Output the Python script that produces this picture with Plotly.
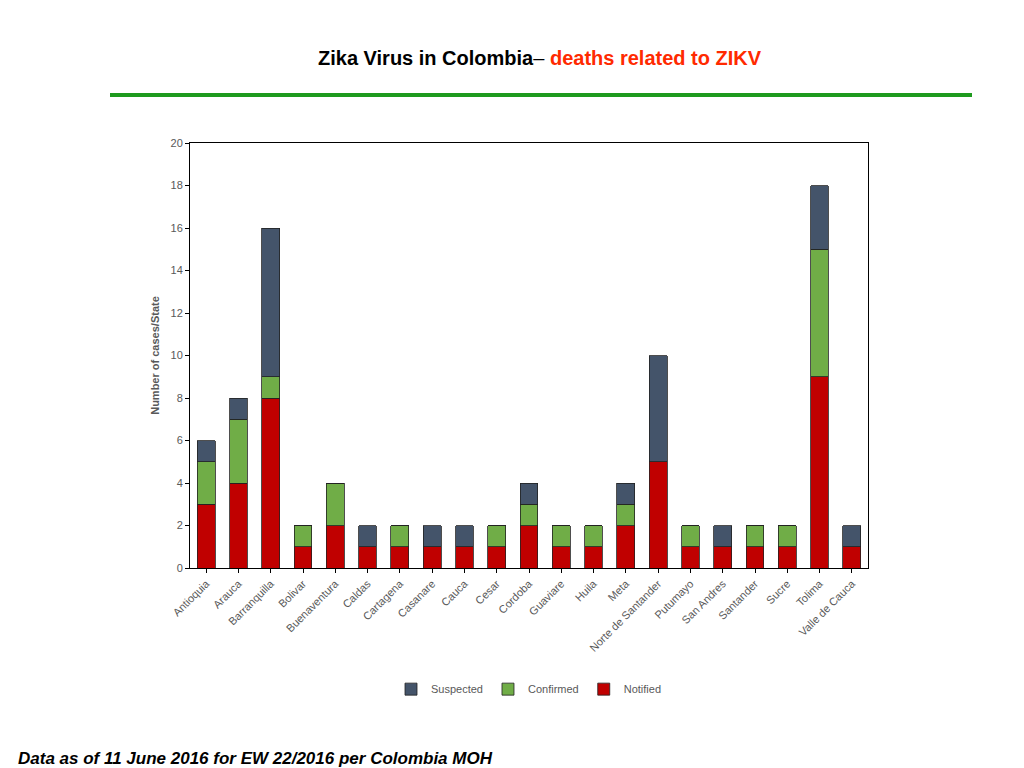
import plotly.graph_objects as go

states = ["Antioquia","Arauca","Barranquilla","Bolivar","Buenaventura","Caldas","Cartagena","Casanare","Cauca","Cesar","Cordoba","Guaviare","Huila","Meta","Norte de Santander","Putumayo","San Andres","Santander","Sucre","Tolima","Valle de Cauca"]
notified  = [3,4,8,1,2,1,1,1,1,1,2,1,1,2,5,1,1,1,1,9,1]
confirmed = [2,3,1,1,2,0,1,0,0,1,1,1,1,1,0,1,0,1,1,6,0]
suspected = [1,1,7,0,0,1,0,1,1,0,1,0,0,1,5,0,1,0,0,3,1]

fig = go.Figure()
for name, vals, col in [("Notified", notified, "#C00000"), ("Confirmed", confirmed, "#70AD47"), ("Suspected", suspected, "#44546A")]:
    fig.add_bar(x=states, y=vals, name=name, marker=dict(color=col, line=dict(color="#222", width=0.8)), width=0.55)

fig.update_layout(
    barmode="stack", width=1024, height=768, paper_bgcolor="white", plot_bgcolor="white",
    margin=dict(l=182, r=164, t=135, b=208),
    font=dict(family="Liberation Sans, Arial", color="#595959", size=11),
    xaxis=dict(tickangle=-45, showline=True, linecolor="black", mirror=True, tickfont=dict(size=11, color="#595959"), ticks="outside", ticklen=4, tickcolor="black"),
    yaxis=dict(range=[0,20], dtick=2, showline=True, linecolor="black", mirror=True, showgrid=False, ticks="outside", ticklen=4, tickcolor="black",
               title=dict(text="<b>Number of cases/State</b>", font=dict(size=11, color="#595959"), standoff=8), tickfont=dict(size=11)),
    legend=dict(orientation="h", x=0.5, xanchor="center", y=-0.285, yanchor="middle", font=dict(size=11, color="#595959")),
    showlegend=True,
    annotations=[
        dict(text="<b>Zika Virus in Colombia</b>– <b><span style='color:#FF2A00'>deaths related to ZIKV</span></b>", xref="paper", yref="paper",
             x=(532-182)/678, y=1+(135-50)/425, showarrow=False, font=dict(size=20, color="black", family="Liberation Sans, Arial"), xanchor="center", yanchor="middle"),
        dict(text="<b><i>Data as of 11 June 2016 for EW 22/2016 per Colombia MOH</i></b>", xref="paper", yref="paper",
             x=(8-182)/678, y=-(750-560)/425, showarrow=False, xanchor="left", yanchor="middle", font=dict(size=17, color="black", family="Liberation Sans, Arial")),
    ],
    shapes=[dict(type="line", xref="paper", yref="paper", x0=(102-182)/678, x1=(964-182)/678, y0=1+(135-87)/425, y1=1+(135-87)/425, line=dict(color="#1E9A1E", width=4))],
)
fig.update_xaxes(tickfont=dict(family="Liberation Sans, Arial", size=11))
fig.write_html("out.html")
